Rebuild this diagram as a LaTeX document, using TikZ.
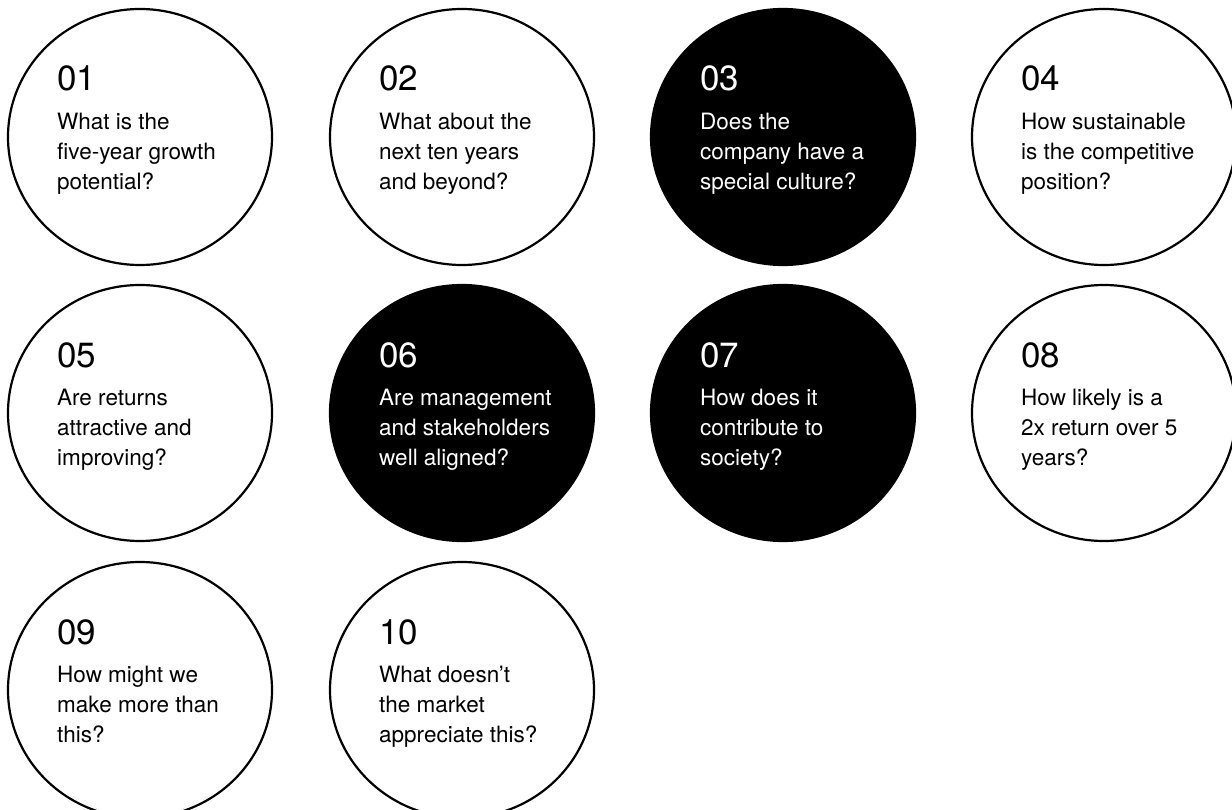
\documentclass[tikz,border=0pt]{standalone}
\usepackage{fontspec}
\setmainfont{TeX Gyre Heros}
\usetikzlibrary{shapes.geometric}
\tikzset{qring/.style={ellipse,draw=black,line width=2.2pt,fill=white,
  minimum width=264pt,minimum height=256pt,inner sep=0pt},
  qdark/.style={qring,fill=black},
  qnum/.style={anchor=base west,inner sep=0pt,font=\fontsize{35}{35}\selectfont},
  qtext/.style={anchor=north west,inner sep=0pt,align=left,
  font=\fontsize{22.5}{30}\selectfont}}

\begin{document}
\begin{tikzpicture}[x=1pt,y=1pt]
\useasboundingbox (0,0) rectangle (1232,-810);
\clip (0,0) rectangle (1232,-810);
% first row
\node[qring] (q1) at (140,-137) {};
\node[qring] (q2) at (462,-137) {};
\node[qdark] (q3) at (783,-137) {};
\node[qring] (q4) at (1104,-137) {};
% second row
\node[qring] (q5) at (140,-413) {};
\node[qdark] (q6) at (462,-413) {};
\node[qdark] (q7) at (783,-413) {};
\node[qring] (q8) at (1104,-413) {};
% third row
\node[qring] (q9) at (140,-690) {};
\node[qring] (q10) at (462,-690) {};
% numbers
\node[qnum] (n1) at ([shift={(-83,46)}]q1.center) {01};
\node[qnum] (n2) at ([shift={(-83,46)}]q2.center) {02};
\node[qnum,text=white] (n3) at ([shift={(-83,46)}]q3.center) {03};
\node[qnum] (n4) at ([shift={(-83,46)}]q4.center) {04};
\node[qnum] (n5) at ([shift={(-83,46)}]q5.center) {05};
\node[qnum,text=white] (n6) at ([shift={(-83,46)}]q6.center) {06};
\node[qnum,text=white] (n7) at ([shift={(-83,46)}]q7.center) {07};
\node[qnum] (n8) at ([shift={(-83,46)}]q8.center) {08};
\node[qnum] (n9) at ([shift={(-83,46)}]q9.center) {09};
\node[qnum] (n10) at ([shift={(-83,46)}]q10.center) {10};
% questions
\node[qtext] (t1) at ([shift={(-83,24)}]q1.center) {What is the\\five-year growth\\potential?};
\node[qtext] (t2) at ([shift={(-83,24)}]q2.center) {What about the\\next ten years\\and beyond?};
\node[qtext,text=white] (t3) at ([shift={(-83,24)}]q3.center) {Does the\\company have a\\special culture?};
\node[qtext] (t4) at ([shift={(-83,24)}]q4.center) {How sustainable\\is the competitive\\position?};
\node[qtext] (t5) at ([shift={(-83,24)}]q5.center) {Are returns\\attractive and\\improving?};
\node[qtext,text=white] (t6) at ([shift={(-83,24)}]q6.center) {Are management\\and stakeholders\\well aligned?};
\node[qtext,text=white] (t7) at ([shift={(-83,24)}]q7.center) {How does it\\contribute to\\society?};
\node[qtext] (t8) at ([shift={(-83,24)}]q8.center) {How likely is a\\2x return over 5\\years?};
\node[qtext] (t9) at ([shift={(-83,24)}]q9.center) {How might we\\make more than\\this?};
\node[qtext] (t10) at ([shift={(-83,24)}]q10.center) {What doesn’t\\the market\\appreciate this?};
\end{tikzpicture}
\end{document}
